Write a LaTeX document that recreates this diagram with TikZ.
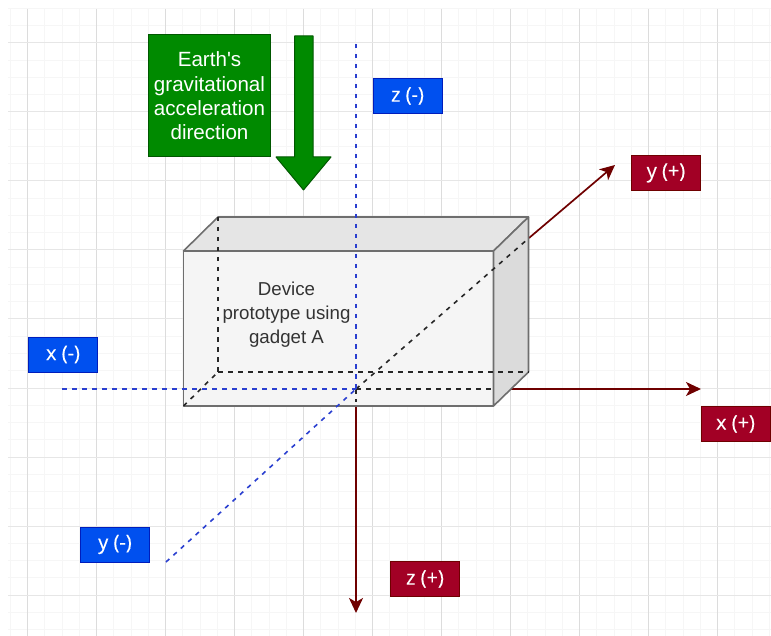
\documentclass[tikz,border=0pt]{standalone}
\usepackage{fontspec}
\setmainfont[Ligatures=NoCommon]{Liberation Sans}
\newfontfamily\labelfont[FakeBold=0.35]{Open Sans}
\usetikzlibrary{arrows.meta}
\definecolor{gridmajv}{HTML}{DCDCDC}
\definecolor{gridmajh}{HTML}{E6E6E6}
\definecolor{gridmin}{HTML}{F6F6F6}
\definecolor{bluefill}{HTML}{0050EF}
\definecolor{bluedraw}{HTML}{001DBC}
\definecolor{redfill}{HTML}{A20025}
\definecolor{reddraw}{HTML}{6F0000}
\definecolor{greenfill}{HTML}{008A00}
\definecolor{greendraw}{HTML}{005700}
\definecolor{boxline}{HTML}{6E6E6E}
\definecolor{axisblue}{HTML}{2A3FD0}
\tikzset{
  x=1pt,y=-1pt,
  tag/.style={minimum width=69pt,minimum height=35pt,inner sep=0pt,line width=1pt,text=white,font=\labelfont\fontsize{20}{24}\selectfont},
  bluetag/.style={tag,fill=bluefill,draw=bluedraw},
  redtag/.style={tag,fill=redfill,draw=reddraw},
  redaxis/.style={draw=reddraw,line width=1.7pt,-{Stealth[length=15pt,width=14pt,inset=4pt]}},
  blueaxis/.style={draw=axisblue,line width=1.6pt,dash pattern=on 4.5pt off 5.5pt},
  blackaxis/.style={draw=black!85,line width=1.6pt,dash pattern=on 4.5pt off 5.5pt},
  boxface/.style={draw=boxline,line width=1.6pt,line join=round},
}
\begin{document}
\begin{tikzpicture}
\useasboundingbox (0,0) rectangle (771,636);
\fill[white] (0,0) rectangle (771,636);
% grid
\foreach \k in {-1,...,43} {
  \pgfmathsetmacro\gx{27.5+17.25*\k}
  \draw[gridmin,line width=1pt] (\gx,9) -- (\gx,636);
}
\foreach \k in {-22,...,14} {
  \pgfmathsetmacro\gy{388+17.25*\k}
  \draw[gridmin,line width=1pt] (8,\gy) -- (771,\gy);
}
\foreach \k in {0,...,10} {
  \pgfmathsetmacro\gx{27.5+69*\k}
  \draw[gridmajv,line width=1pt] (\gx,9) -- (\gx,636);
}
\foreach \k in {-5,...,3} {
  \pgfmathsetmacro\gy{388+69*\k}
  \draw[gridmajh,line width=1pt] (8,\gy) -- (771,\gy);
}
% coordinates
\coordinate (O) at (356,389);
\coordinate (zminus) at (356,44);
\coordinate (zplus) at (356,613);
\coordinate (zred) at (356,402);
\coordinate (xminus) at (62,389);
\coordinate (xblack) at (493,389);
\coordinate (xred) at (510,389);
\coordinate (xplus) at (701,389);
\coordinate (yminus) at (166,562);
\coordinate (yblack) at (529,238);
\coordinate (yplus) at (615,165);
\coordinate (fbl) at (183.5,406);
\coordinate (fbr) at (493.5,406);
\coordinate (ftl) at (183.5,251);
\coordinate (ftr) at (493.5,251);
\coordinate (btl) at (218,217);
\coordinate (btr) at (528.5,217);
\coordinate (bbl) at (218,372);
\coordinate (bbr) at (528.5,372);
% red axes behind box
\draw[redaxis] (zred) -- (zplus);
\draw[redaxis] (xred) -- (xplus);
\draw[redaxis] (yblack) -- (yplus);
% box
\draw[boxface,fill=white!96!black] (ftl) rectangle (fbr);
\draw[boxface,fill=white!90!black] (ftl) -- (btl) -- (btr) -- (ftr) -- cycle;
\draw[boxface,fill=white!86!black] (ftr) -- (btr) -- (bbr) -- (fbr) -- cycle;
% hidden edges
\draw[blackaxis] (fbl) -- (bbl);
\draw[blackaxis] (btl) -- (bbl);
\draw[blackaxis] (bbl) -- (bbr);
% axes through box
\draw[blackaxis] (O) -- (xblack);
\draw[blackaxis] (O) -- (yblack);
\draw[blackaxis] (O) -- (zred);
\draw[blueaxis] (zminus) -- (O);
\draw[blueaxis] (xminus) -- (O);
\draw[blueaxis] (yminus) -- (O);
% device text
\node[name=device,align=center,inner sep=0pt,text=black!80,font=\fontsize{18.7}{24}\selectfont] at (286.5,314.5) {Device\\prototype using\\gadget A};
% labels
\node[bluetag,name=zm] at (407.5,96) {z (-)};
\node[bluetag,name=xm] at (63,354.5) {x (-)};
\node[bluetag,name=ym] at (115,544.5) {y (-)};
\node[redtag,name=yp] at (666,173) {y (+)};
\node[redtag,name=xp] at (735.5,424) {x (+)};
\node[redtag,name=zp] at (425,579) {z (+)};
% gravity
\node[name=gravity,fill=greenfill,draw=greendraw,line width=1pt,minimum width=121.5pt,minimum height=122pt,inner sep=0pt,align=center,text=white,font=\fontsize{20.6}{24.4}\selectfont] at (209.5,96) {Earth\textquotesingle s\\gravitational\\acceleration\\direction};
\draw[fill=greenfill,draw=greendraw,line width=1pt,line join=round] (294.5,36) -- (313,36) -- (313,157) -- (331,157) -- (303.5,190) -- (276,157) -- (294.5,157) -- cycle;
\end{tikzpicture}
\end{document}
